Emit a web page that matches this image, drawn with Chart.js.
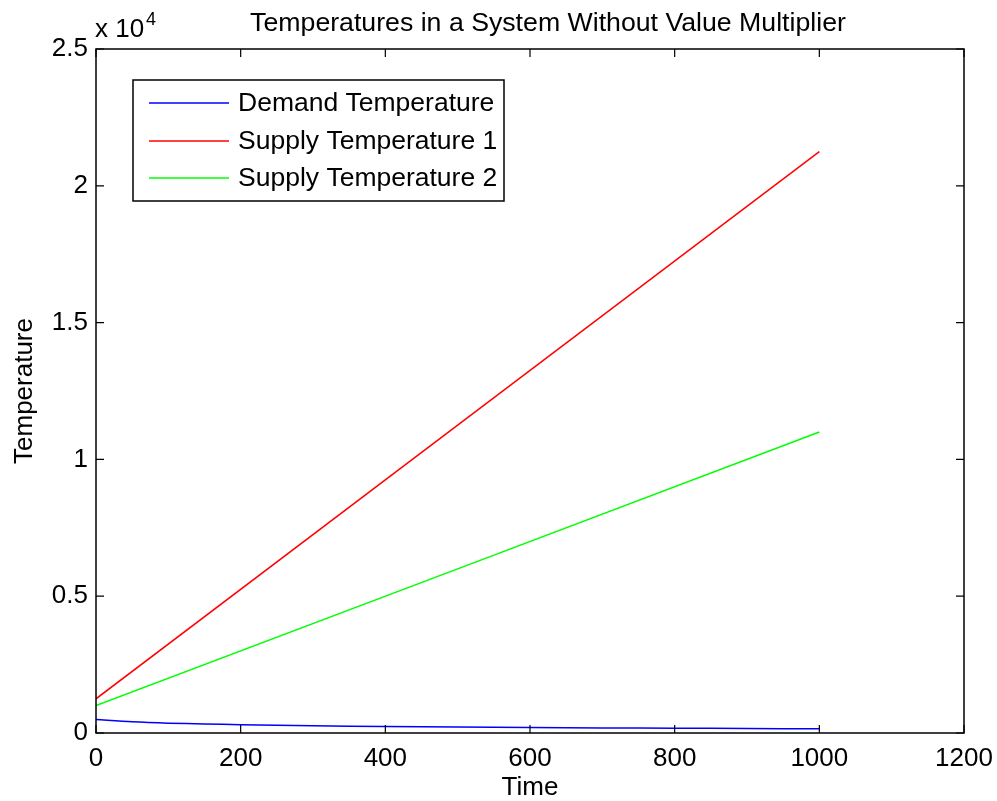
<!DOCTYPE html>
<html>
<head>
<meta charset="utf-8">
<script src="https://cdn.jsdelivr.net/npm/chart.js@4.4.1/dist/chart.umd.min.js"></script>
<style>
  body { margin: 0; background: #fff; }
  #wrap { width: 997px; height: 801px; }
</style>
</head>
<body>
<div id="wrap"><canvas id="chart" width="997" height="801"></canvas></div>
<script>
// Data
var demandTime = [0, 50, 100, 150, 200, 300, 400, 500, 600, 700, 800, 900, 1000];
var demandTemp = [490, 410, 360, 330, 305, 265, 238, 217, 200, 187, 175, 164, 155];
var supplyTime = [0, 1000];
var supplyTemp1 = [1250, 21250];
var supplyTemp2 = [1000, 11000];

var seriesNames = ['Demand Temperature', 'Supply Temperature 1', 'Supply Temperature 2'];
var seriesColors = ['#0000ff', '#ff0000', '#00ff00'];

var FONT = "'Liberation Sans', Arial, Helvetica, sans-serif";

function toPoints(xs, ys) {
    return xs.map(function (x, i) { return { x: x, y: ys[i] }; });
}

// MATLAB style box, inward ticks, title, exponent and legend
var matlabDecor = {
    id: 'matlabDecor',
    afterDraw: function (chart) {
        var ctx = chart.ctx;
        var a = chart.chartArea;
        var xs = chart.scales.x, ys = chart.scales.y;
        var tl = 8;
        ctx.save();
        ctx.strokeStyle = '#000';
        ctx.lineWidth = 1.5;
        ctx.strokeRect(a.left, a.top, a.right - a.left, a.bottom - a.top);
        ctx.lineWidth = 1.2;
        ctx.beginPath();
        xs.ticks.forEach(function (t) {
            var px = xs.getPixelForValue(t.value);
            ctx.moveTo(px, a.bottom); ctx.lineTo(px, a.bottom - tl);
            ctx.moveTo(px, a.top); ctx.lineTo(px, a.top + tl);
        });
        ys.ticks.forEach(function (t) {
            var py = ys.getPixelForValue(t.value);
            ctx.moveTo(a.left, py); ctx.lineTo(a.left + tl, py);
            ctx.moveTo(a.right, py); ctx.lineTo(a.right - tl, py);
        });
        ctx.stroke();

        // title
        ctx.fillStyle = '#000';
        ctx.font = '26.7px ' + FONT;
        ctx.textAlign = 'center';
        ctx.textBaseline = 'alphabetic';
        ctx.fillText('Temperatures in a System Without Value Multiplier', 548, 31);

        // exponent label
        ctx.font = '26px ' + FONT;
        ctx.textAlign = 'left';
        ctx.fillText('x 10', 95, 37);
        ctx.font = '18px ' + FONT;
        ctx.fillText('4', 146, 25);

        // legend
        var lx = 133, ly = 80, lw = 371, lh = 121;
        ctx.fillStyle = '#fff';
        ctx.fillRect(lx, ly, lw, lh);
        ctx.lineWidth = 1.5;
        ctx.strokeRect(lx, ly, lw, lh);
        ctx.font = '26.5px ' + FONT;
        ctx.textBaseline = 'middle';
        var rows = [103, 141, 178];
        seriesNames.forEach(function (name, i) {
            ctx.strokeStyle = seriesColors[i];
            ctx.lineWidth = 1.5;
            ctx.beginPath();
            ctx.moveTo(149, rows[i]);
            ctx.lineTo(229, rows[i]);
            ctx.stroke();
            ctx.fillStyle = '#000';
            ctx.fillText(name, 238, rows[i] + 1);
        });
        ctx.restore();
    }
};

var ctx = document.getElementById('chart').getContext('2d');
var chart = new Chart(ctx, {
    type: 'line',
    data: {
        datasets: [
            { label: seriesNames[0], data: toPoints(demandTime, demandTemp), borderColor: seriesColors[0] },
            { label: seriesNames[1], data: toPoints(supplyTime, supplyTemp1), borderColor: seriesColors[1] },
            { label: seriesNames[2], data: toPoints(supplyTime, supplyTemp2), borderColor: seriesColors[2] }
        ]
    },
    options: {
        responsive: false,
        animation: false,
        layout: { padding: { top: 49, right: 33, left: 0, bottom: 0 } },
        elements: {
            line: { borderWidth: 1.5, tension: 0.3, fill: false },
            point: { radius: 0 }
        },
        plugins: {
            legend: { display: false },
            title: { display: false },
            tooltip: { enabled: false }
        },
        scales: {
            x: {
                type: 'linear',
                min: 0, max: 1200,
                ticks: {
                    stepSize: 200,
                    padding: 2,
                    color: '#000',
                    font: { family: FONT, size: 26 },
                    maxRotation: 0,
                    callback: function (v) { return String(v); }
                },
                grid: { display: false },
                border: { display: false },
                title: {
                    display: true, text: 'Time', color: '#000',
                    font: { family: FONT, size: 26, lineHeight: 1.0 },
                    padding: { top: 0, bottom: 0 }
                },
                afterFit: function (s) { s.height = 68; }
            },
            y: {
                type: 'linear',
                min: 0, max: 25000,
                ticks: {
                    stepSize: 5000,
                    padding: 0,
                    color: '#000',
                    font: { family: FONT, size: 26 },
                    callback: function (v) { return String(v / 10000); }
                },
                grid: { display: false },
                border: { display: false },
                title: {
                    display: true, text: 'Temperature', color: '#000',
                    font: { family: FONT, size: 26, lineHeight: 1.2 },
                    padding: { top: 9, bottom: 0 }
                },
                afterFit: function (s) { s.width = 96; }
            }
        }
    },
    plugins: [matlabDecor]
});
</script>
</body>
</html>
